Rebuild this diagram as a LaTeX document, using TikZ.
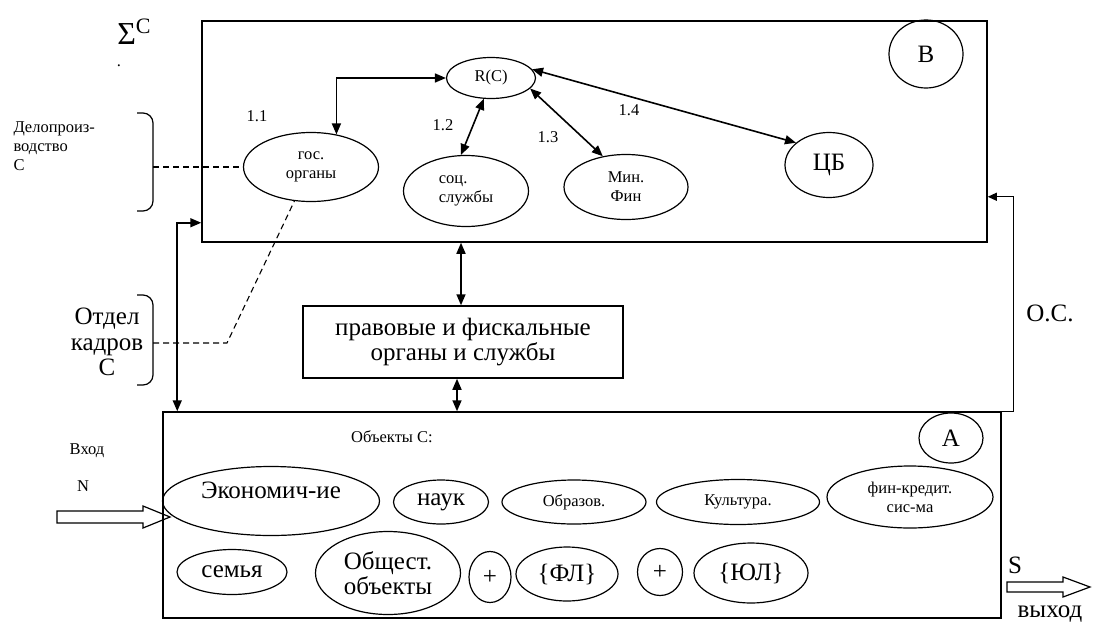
\documentclass[tikz,border=0pt]{standalone}
\usepackage{fontspec}
\setmainfont{Liberation Serif}
\usetikzlibrary{shapes.geometric,arrows.meta}
\newcommand\smalltxt{\fontsize{16.5}{19}\selectfont}
\newcommand\bigtxt{\fontsize{25}{25.5}\selectfont}

\begin{document}
\begin{tikzpicture}[x=1pt,y=-1pt,
    every node/.style={font=\smalltxt},
    oval/.style={draw,ellipse,line width=1.2pt,inner sep=0pt,align=center},
    panel/.style={draw,line width=1.5pt,inner sep=0pt},
    link/.style={line width=1.6pt,{Triangle[length=11pt,width=9pt]}-{Triangle[length=11pt,width=9pt]}},
    fback/.style={line width=1.2pt,-{Triangle[length=9pt,width=8pt]}},
    staff/.style={line width=1.1pt,dash pattern=on 6pt off 4pt},
    bracket/.style={line width=1.2pt,rounded corners=10pt},
    hollow/.style={line width=1.2pt,line join=miter}]
    \useasboundingbox (0,0) rectangle (1094,624);

    \node[panel,minimum width=785,minimum height=221] (boxB) at (594.5,131.5) {};
    \node[panel,minimum width=838,minimum height=206] (boxA) at (582,515) {};
    \node[panel,minimum width=320,minimum height=72,font=\bigtxt,align=center] (mid) at (463,342) {правовые и фискальные\\органы и службы};

    \node (sigma) at (134,32) {\fontsize{32}{32}\selectfont Σ\raisebox{11pt}{\fontsize{22}{22}\selectfont C}};
    \node (dot) at (119,66) {.};

    \node[oval,minimum width=89,minimum height=41] (rc) at (491,78) {R(C)};
    \node[oval,minimum width=135,minimum height=69] (gos) at (311,167) {гос.\\органы};
    \node[oval,minimum width=125,minimum height=71,align=left] (soc) at (466,191) {соц.\\службы};
    \node[oval,minimum width=124,minimum height=65] (minfin) at (626,187) {Мин.\\Фин};
    \node[oval,minimum width=88,minimum height=65,font=\bigtxt] (cb) at (829,165) {ЦБ};
    \node[oval,minimum width=74,minimum height=68,font=\bigtxt] (lb) at (926,54) {В};

    \node at (257,116) {1.1};
    \node at (443,125) {1.2};
    \node at (548,137) {1.3};
    \node at (629,110) {1.4};

    \draw[link] (gos.52) |- (rc.west);
    \draw[link] (soc.98) -- (rc.251);
    \draw[link] (minfin.127) -- (rc.-15);
    \draw[link] (rc.12) -- (cb.146);

    \node[anchor=west,align=left] (delo) at (10,146) {Делопроиз-\\водство\\С};
    \node[align=center,font=\bigtxt] (kadr) at (107,342) {Отдел\\кадров\\С};
    \coordinate (dlp) at (153,167);
    \coordinate (kdr) at (153,343);
    \coordinate (bend) at (227,343);
    \draw[bracket] (137,113) -- (153,113) -- (153,211) -- (137,211);
    \draw[bracket] (137,295) -- (153,295) -- (153,385) -- (137,385);
    \draw[staff] (dlp) -- (gos.west);
    \draw[staff] (kdr) -- (bend) -- (gos.244);

    \coordinate (m1) at ([xshift=-2]mid.north);
    \coordinate (m2) at ([xshift=-6]mid.south);
    \coordinate (l1) at ([yshift=20]boxB.south west);
    \draw[link] (m1) -- (m1 |- boxB.south);
    \draw[link] (m2) -- (m2 |- boxA.north);
    \draw[link] (l1) -| ([xshift=15]boxA.north west);
    \draw[fback] (boxA.north east) -- ++(12,0) |- ([yshift=46]boxB.south east);
    \node[font=\bigtxt] (os) at (1050,313) {О.С.};

    \node (obj) at (392,437) {Объекты С:};
    \node[oval,minimum width=64,minimum height=50,font=\bigtxt] (la) at (951,438) {А};
    \node[oval,minimum width=217,minimum height=69,font=\bigtxt,text depth=21pt] (econ) at (271,501) {Экономич-ие};
    \node[oval,minimum width=95,minimum height=44,font=\bigtxt] (nauk) at (441,502) {наук};
    \node[oval,minimum width=144,minimum height=44] (obraz) at (574,502) {Образов.};
    \node[oval,minimum width=163,minimum height=45] (kult) at (738,502) {Культура.};
    \node[oval,minimum width=166,minimum height=62] (fin) at (910,497) {фин-кредит.\\сис-ма};
    \node[oval,minimum width=110,minimum height=45,font=\bigtxt] (semya) at (232,572) {семья};
    \node[oval,minimum width=145,minimum height=83,font=\bigtxt] (obsh) at (388,573) {Общест.\\объекты};
    \node[oval,minimum width=42,minimum height=51,font=\bigtxt] (plus1) at (490,577) {+};
    \node[oval,minimum width=102,minimum height=54,font=\bigtxt] (fl) at (567,574) {\{ФЛ\}};
    \node[oval,minimum width=45,minimum height=47,font=\bigtxt] (plus2) at (660,572) {+};
    \node[oval,minimum width=114,minimum height=60,font=\bigtxt] (ul) at (751,573) {\{ЮЛ\}};

    \node (vhod) at (87,451) {Вход};
    \node (nin) at (83,486) {N};
    \coordinate (intip) at (170,517);
    \draw[hollow] (57,511) -- (143,511) -- (143,506) -- (intip) -- (143,528) -- (143,523) -- (57,523) -- cycle;
    \node[font=\bigtxt] (sout) at (1015,565) {S};
    \coordinate (outtip) at (1090,587);
    \draw[hollow] (1007,582) -- (1063,582) -- (1063,577) -- (outtip) -- (1063,597) -- (1063,592) -- (1007,592) -- cycle;
    \node[font=\bigtxt] (vyhod) at (1050,614) {выход};
\end{tikzpicture}
\end{document}
